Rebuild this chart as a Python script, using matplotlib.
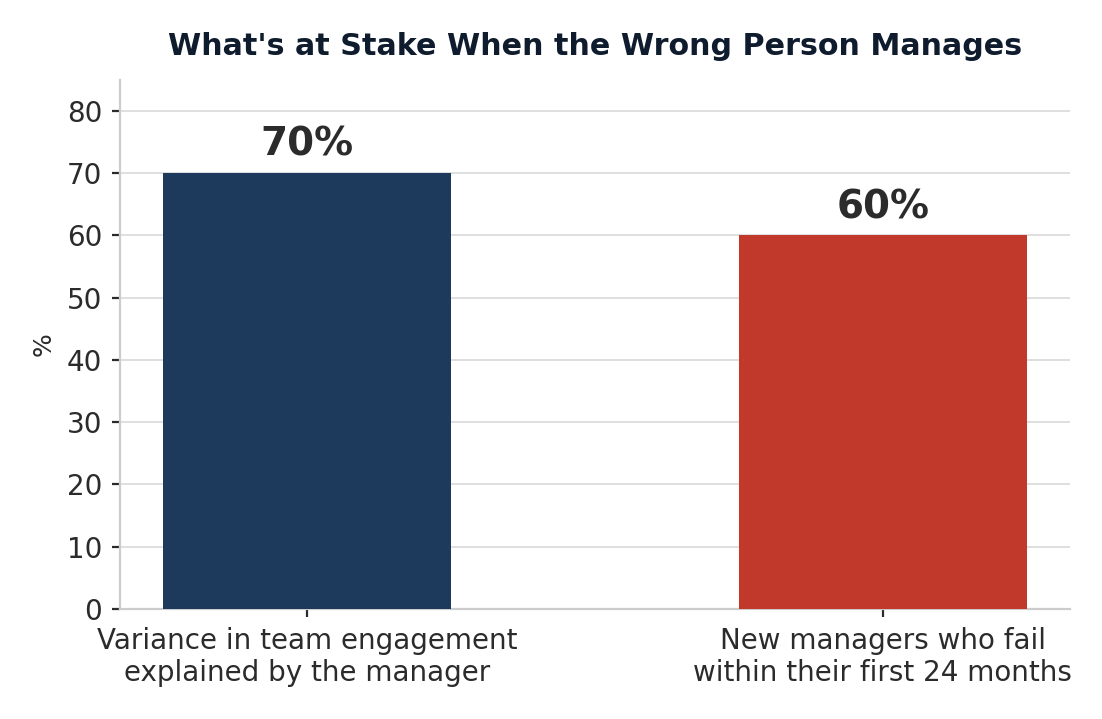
import matplotlib
matplotlib.use("Agg")
import matplotlib.pyplot as plt
import seaborn as sns

# data
categories = ["Variance in team engagement\nexplained by the manager",
              "New managers who fail\nwithin their first 24 months"]
values = [70, 60]
bar_colors = ["#1d3a5c", "#c0392b"]
yticks = [0, 10, 20, 30, 40, 50, 60, 70, 80]

sns.set_style("whitegrid")
plt.rcParams['font.family'] = ['DejaVu Sans']

fig, ax = plt.subplots(figsize=(5.51, 3.595), dpi=200)
bars = ax.bar(range(len(values)), values, width=0.5, color=bar_colors,
              edgecolor="none", linewidth=0, zorder=3)

for b, v in zip(bars, values):
    ax.text(b.get_x() + b.get_width() / 2, v + 1.5, f"{v}%",
            ha="center", va="bottom", fontsize=14, fontweight="bold", color="#2b2b2b")

ax.set_xticks(range(len(values)))
ax.set_xticklabels(categories, fontsize=10, color="#2b2b2b")
ax.set_yticks(yticks)
ax.tick_params(axis="both", direction="out", length=3, width=0.8, color="#2b2b2b",
               bottom=True, left=True)
ax.tick_params(axis="y", labelsize=10, labelcolor="#2b2b2b")
ax.set_ylim(0, 85)
ax.set_ylabel("%", fontsize=9, color="#2b2b2b")
ax.set_title("What's at Stake When the Wrong Person Manages",
             fontsize=10.85, fontweight="bold", color="#0f1c2e", pad=9)

ax.grid(axis="x", visible=False)
ax.grid(axis="y", color="#d9d9d9", linewidth=0.6)
for s in ["top", "right"]:
    ax.spines[s].set_visible(False)
for s in ["left", "bottom"]:
    ax.spines[s].set_color("#cccccc")
    ax.spines[s].set_linewidth(0.8)

fig.subplots_adjust(left=0.109, right=0.971, top=0.889, bottom=0.153)
fig.savefig("out.png", dpi=200)
